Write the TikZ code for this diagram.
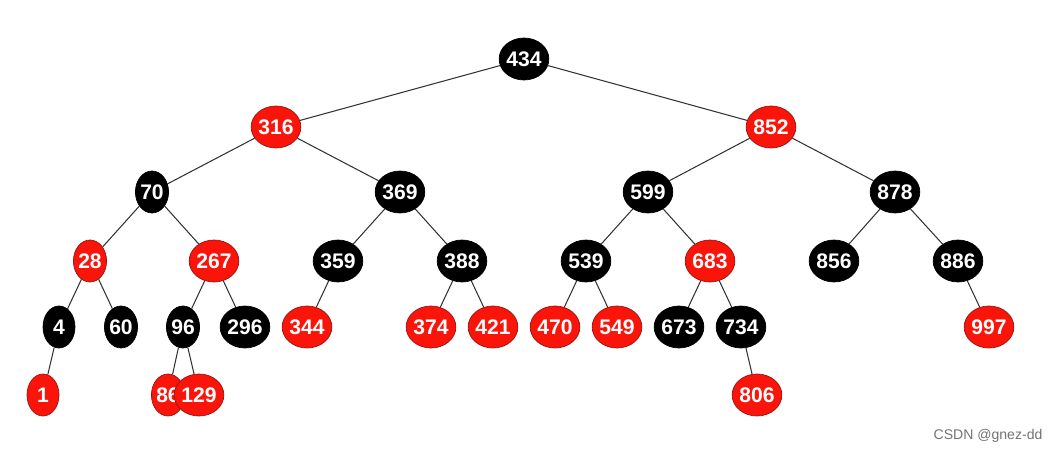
\documentclass[tikz,border=0pt]{standalone}
\usepackage{fontspec}
\setmainfont{Liberation Sans}
\usetikzlibrary{shapes.geometric}
\definecolor{rbred}{RGB}{250,20,10}
\definecolor{rbedge}{RGB}{150,20,20}

\begin{document}
\begin{tikzpicture}[x=0.02cm,y=-0.02cm,
  nd/.style={ellipse,minimum width=0.64cm,minimum height=0.84cm,inner sep=0pt,
    text=white,font=\bfseries\fontsize{12}{12}\selectfont},
  blk/.style={nd,fill=black,draw=black},
  rd/.style={nd,fill=rbred,draw=rbedge},
  edge/.style={draw=black!80,line width=0.6pt}]

\useasboundingbox (0,0) rectangle (1050,452);

% nodes
\node[blk] (n434) at (524,59) {434};
\node[rd]  (n316) at (276,127) {316};
\node[rd]  (n852) at (771,127) {852};
\node[blk] (n70)  at (152,192) {70};
\node[blk] (n369) at (400,192) {369};
\node[blk] (n599) at (648,192) {599};
\node[blk] (n878) at (895,192) {878};
\node[rd]  (n28)  at (90,261) {28};
\node[rd]  (n267) at (214,261) {267};
\node[blk] (n359) at (338,261) {359};
\node[blk] (n388) at (462,261) {388};
\node[blk] (n539) at (586,261) {539};
\node[rd]  (n683) at (710,261) {683};
\node[blk] (n856) at (834,261) {856};
\node[blk] (n886) at (958,261) {886};
\node[blk] (n4)   at (59,327) {4};
\node[blk] (n60)  at (121,327) {60};
\node[blk] (n96)  at (183,327) {96};
\node[blk] (n296) at (245,327) {296};
\node[rd]  (n344) at (307,327) {344};
\node[rd]  (n374) at (431,327) {374};
\node[rd]  (n421) at (493,327) {421};
\node[rd]  (n470) at (555,327) {470};
\node[rd]  (n549) at (617,327) {549};
\node[blk] (n673) at (679,327) {673};
\node[blk] (n734) at (741,327) {734};
\node[rd]  (n997) at (989,327) {997};
\node[rd]  (n1)   at (43,395) {1};
\node[rd]  (n86)  at (168,395) {86};
\node[rd]  (n129) at (199,395) {129};
\node[rd]  (n806) at (757,395) {806};

% edges
\foreach \p/\c in {434/316,434/852,316/70,316/369,852/599,852/878,
  70/28,70/267,369/359,369/388,599/539,599/683,878/856,878/886,
  28/4,28/60,267/96,267/296,359/344,388/374,388/421,539/470,539/549,
  683/673,683/734,886/997,4/1,96/86,96/129,734/806}
  \draw[edge] (n\p) -- (n\c);

\node[text=black!55,font=\fontsize{8}{8}\selectfont] (mark) at (988,436) {CSDN @gnez-dd};

\end{tikzpicture}
\end{document}
